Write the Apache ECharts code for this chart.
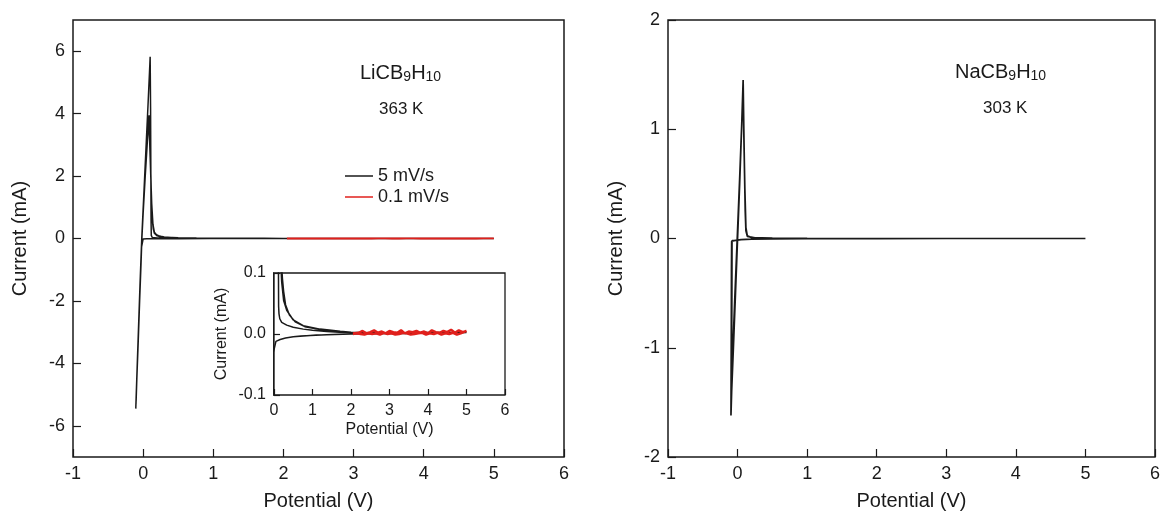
<!DOCTYPE html>
<html>
<head>
<meta charset="utf-8">
<script src="https://cdn.jsdelivr.net/npm/echarts@6/dist/echarts.min.js"></script>
<style>html,body{margin:0;padding:0;background:#fff}#c{width:1163px;height:516px}</style>
</head>
<body>
<div id="c"></div>
<script>
// ---------- DATA ----------
// LiCB9H10, 363 K, 5 mV/s : three cycles (cathodic 5 -> -0.1 V, anodic -0.1 -> 5 V)
const liCyc1V = [5.0,4.5,4.0,3.5,3.0,2.5,2.0,1.7,1.37,1.1,0.94,0.7,0.5,0.3,0.16,0.05,0.0,-0.015,-0.025,-0.04,-0.06,-0.08,-0.095,-0.105,
  -0.1,-0.085,-0.065,-0.045,-0.03,-0.02,-0.005,0.02,0.045,0.07,0.09,0.1,0.106,0.11,0.113,0.116,0.12,0.13,0.15,0.2,0.33,0.5,0.76,1.0,1.37,1.7,2.0,2.5,3.0,3.5,4.0,4.5,5.0];
const liCyc1I = [0.002,0.002,0.0015,0.001,0.001,0.0005,-0.0002,-0.0006,-0.0013,-0.0018,-0.0023,-0.0032,-0.0045,-0.0065,-0.009,-0.012,-0.014,-0.03,-0.3,-1.2,-2.5,-3.8,-4.8,-5.45,
  -5.1,-4.1,-2.8,-1.5,-0.6,0.0,0.7,1.9,3.1,4.3,5.3,5.82,4.2,2.0,0.6,0.1,0.045,0.033,0.025,0.019,0.0145,0.011,0.008,0.006,0.004,0.003,0.002,0.0015,0.0015,0.002,0.002,0.0025,0.003];
const liCyc2V = [4.5,4.0,3.0,2.0,1.37,0.94,0.5,0.3,0.16,0.05,0.0,-0.015,-0.025,-0.04,-0.06,-0.08,-0.095,-0.102,
  -0.095,-0.08,-0.06,-0.04,-0.02,0.0,0.03,0.06,0.085,0.1,0.115,0.13,0.145,0.16,0.18,0.2,0.25,0.33,0.5,0.76,1.2,1.72,2.0,2.5,3.0,3.5,4.0,4.5,5.0];
const liCyc2I = [0.002,0.0015,0.001,-0.0002,-0.0013,-0.0023,-0.0045,-0.0065,-0.009,-0.012,-0.0145,-0.03,-0.3,-1.2,-2.5,-3.8,-4.8,-5.3,
  -4.8,-3.8,-2.5,-1.2,0.0,0.95,2.2,3.3,3.95,3.0,1.6,0.6,0.3,0.17,0.11,0.085,0.055,0.039,0.023,0.0135,0.008,0.0047,0.003,0.002,0.002,0.002,0.0025,0.002,0.003];
const liCyc3V = [4.5,4.0,3.0,2.0,1.37,0.94,0.5,0.3,0.16,0.05,0.0,-0.015,-0.025,-0.04,-0.06,-0.08,-0.095,-0.1,
  -0.09,-0.07,-0.05,-0.03,-0.018,0.0,0.03,0.06,0.083,0.1,0.12,0.14,0.16,0.19,0.22,0.25,0.3,0.4,0.55,0.8,1.2,1.6,2.0];
const liCyc3I = [0.002,0.0015,0.001,-0.0002,-0.0013,-0.0023,-0.0045,-0.0065,-0.009,-0.012,-0.014,-0.03,-0.3,-1.2,-2.5,-3.8,-4.8,-5.2,
  -4.5,-3.3,-2.0,-0.8,0.0,0.8,2.0,3.1,3.8,2.6,1.2,0.45,0.2,0.12,0.09,0.07,0.048,0.031,0.02,0.012,0.0075,0.005,0.003];

// LiCB9H10, 0.1 mV/s (2 -> 5 -> 2 V)
const liSlowV = [2.05,2.1,2.2,2.3,2.4,2.5,2.6,2.7,2.8,2.9,3.0,3.1,3.2,3.3,3.4,3.5,3.6,3.7,3.8,3.9,4.0,4.1,4.2,4.3,4.4,4.5,4.6,4.7,4.8,4.9,5.0,
  4.95,4.85,4.75,4.65,4.55,4.45,4.35,4.25,4.15,4.05,3.95,3.85,3.75,3.65,3.55,3.45,3.35,3.25,3.15,3.05,2.95,2.85,2.75,2.65,2.55,2.45,2.35,2.25,2.15,2.05];
const liSlowI = [0.001,0.004,0.002,0.005,0.001,0.003,0.006,0.002,0.004,0.001,0.005,0.003,0.002,0.006,0.001,0.004,0.003,0.005,0.002,0.004,0.001,0.006,0.003,0.002,0.005,0.003,0.007,0.002,0.006,0.003,0.005,
  0.003,0.001,-0.001,0.002,0.0,0.001,-0.001,0.002,0.0,0.001,-0.001,0.002,0.001,0.0,-0.001,0.001,0.002,0.0,-0.001,0.001,0.0,0.002,-0.001,0.001,0.0,0.001,-0.001,0.0,0.001,0.0];

// NaCB9H10, 303 K : two cycles
const naV = [5.0,4.0,3.0,2.0,1.0,0.5,0.2,0.05,0.0,-0.05,-0.085,-0.088,-0.09,-0.093,-0.095,
  -0.085,-0.06,-0.03,0.0,0.03,0.06,0.08,0.09,0.1,0.11,0.12,0.14,0.165,0.25,0.4,0.7,1.0,2.0,3.0,4.0,5.0,
  4.0,3.0,2.0,1.0,0.5,0.2,0.05,0.0,-0.05,-0.08,-0.082,-0.085,-0.088,
  -0.07,-0.04,-0.005,0.03,0.06,0.078,0.09,0.105,0.12,0.14,0.2,0.5,1.0,2.0,3.0,4.0,5.0];
const naI = [0.0,0.0,0.0,-0.001,-0.002,-0.004,-0.006,-0.01,-0.015,-0.02,-0.025,-0.3,-0.8,-1.3,-1.62,
  -1.4,-1.0,-0.5,0.0,0.5,1.05,1.45,1.0,0.6,0.25,0.07,0.02,0.01,0.006,0.004,0.002,0.001,0.0,0.0,0.0,0.0,
  0.0,0.0,-0.001,-0.002,-0.004,-0.006,-0.01,-0.015,-0.02,-0.02,-0.5,-1.0,-1.31,
  -1.05,-0.55,0.0,0.55,1.05,1.4,0.95,0.45,0.1,0.025,0.008,0.003,0.001,0.0,0.0,0.0,0.0];

const leftYTicks = [-6,-4,-2,0,2,4,6];
const xTicksMain = { min: -1, max: 6, interval: 1 };

// ---------- BUILD ----------
const zip = (xs, ys) => xs.map((x, i) => [x, ys[i]]);
const liFast = zip(liCyc1V, liCyc1I).concat(zip(liCyc2V, liCyc2I), zip(liCyc3V, liCyc3I));
const liSlow = zip(liSlowV, liSlowI);
const na = zip(naV, naI);

const FONT = "'Liberation Sans', Arial, Helvetica, sans-serif";
const INK = '#1a1a1a';
const RED = '#e0201c';

function xAxis(grid, min, max, fs, nfs, gap, tick) {
  return {
    type: 'value', gridIndex: grid, min: min, max: max, interval: 1,
    name: 'Potential (V)', nameLocation: 'middle', nameGap: gap,
    nameTextStyle: { fontFamily: FONT, fontSize: nfs, color: INK },
    axisLine: { show: false, onZero: false },
    axisTick: { show: true, inside: true, length: tick, lineStyle: { color: INK, width: 1.2 } },
    axisLabel: { fontFamily: FONT, fontSize: fs, color: INK, margin: 8 },
    splitLine: { show: false }
  };
}

const richSub = {
  a: { fontFamily: FONT, fontSize: 20, lineHeight: 22, fontWeight: 'normal', color: INK },
  s: { fontFamily: FONT, fontSize: 14, lineHeight: 22, fontWeight: 'normal', verticalAlign: 'bottom', color: INK }
};

const option = {
  animation: false,
  backgroundColor: '#ffffff',
  textStyle: { fontFamily: FONT },
  grid: [
    { left: 73, top: 20, width: 491, height: 442, show: true, borderColor: INK, borderWidth: 1.5, backgroundColor: 'transparent' },
    { left: 668, top: 20, width: 491, height: 442, show: true, borderColor: INK, borderWidth: 1.5, backgroundColor: 'transparent' },
    { left: 274, top: 273, width: 231, height: 122, show: true, borderColor: INK, borderWidth: 1.3, backgroundColor: '#ffffff', z: 5 }
  ],
  xAxis: [
    xAxis(0, xTicksMain.min, xTicksMain.max, 18, 20, 34, 8),
    xAxis(1, xTicksMain.min, xTicksMain.max, 18, 20, 34, 8),
    Object.assign(xAxis(2, 0, 6, 16, 16, 27, 6), { z: 6 })
  ],
  yAxis: [
    {
      type: 'value', gridIndex: 0, min: -7, max: 7,
      name: 'Current (mA)', nameLocation: 'middle', nameGap: 43,
      nameTextStyle: { fontFamily: FONT, fontSize: 20, color: INK },
      axisLine: { show: false, onZero: false },
      axisTick: { show: true, inside: true, length: 8, customValues: leftYTicks, lineStyle: { color: INK, width: 1.2 } },
      axisLabel: { fontFamily: FONT, fontSize: 18, color: INK, margin: 8, customValues: leftYTicks },
      splitLine: { show: false }
    },
    {
      type: 'value', gridIndex: 1, min: -2, max: 2, interval: 1,
      name: 'Current (mA)', nameLocation: 'middle', nameGap: 42,
      nameTextStyle: { fontFamily: FONT, fontSize: 20, color: INK },
      axisLine: { show: false, onZero: false },
      axisTick: { show: true, inside: true, length: 8, lineStyle: { color: INK, width: 1.2 } },
      axisLabel: { fontFamily: FONT, fontSize: 18, color: INK, margin: 8 },
      splitLine: { show: false }
    },
    {
      type: 'value', gridIndex: 2, min: -0.1, max: 0.1, interval: 0.1, z: 6,
      name: 'Current (mA)', nameLocation: 'middle', nameGap: 44,
      nameTextStyle: { fontFamily: FONT, fontSize: 16, color: INK },
      axisLine: { show: false, onZero: false },
      axisTick: { show: true, inside: true, length: 6, lineStyle: { color: INK, width: 1.2 } },
      axisLabel: { fontFamily: FONT, fontSize: 16, color: INK, margin: 8, formatter: v => v.toFixed(1) },
      splitLine: { show: false }
    }
  ],
  legend: {
    data: ['5 mV/s', '0.1 mV/s'], orient: 'vertical', left: 345, top: 167,
    icon: 'rect', itemWidth: 28, itemHeight: 1.5, itemGap: 3, selectedMode: false, padding: 0,
    textStyle: { fontFamily: FONT, fontSize: 18, color: INK, lineHeight: 17 }
  },
  title: [
    { text: '{a|LiCB}{s|9}{a|H}{s|10}', left: 360, top: 62, padding: 0, textStyle: { fontWeight: 'normal', rich: richSub } },
    { text: '363 K', left: 379, top: 101, padding: 0, textStyle: { fontFamily: FONT, fontSize: 17, fontWeight: 'normal', color: INK } },
    { text: '{a|NaCB}{s|9}{a|H}{s|10}', left: 955, top: 61, padding: 0, textStyle: { fontWeight: 'normal', rich: richSub } },
    { text: '303 K', left: 983, top: 100, padding: 0, textStyle: { fontFamily: FONT, fontSize: 17, fontWeight: 'normal', color: INK } }
  ],
  series: [
    { name: '5 mV/s', type: 'line', xAxisIndex: 0, yAxisIndex: 0, data: liFast, symbol: 'none', showSymbol: false,
      lineStyle: { color: INK, width: 1.5 }, itemStyle: { color: INK }, z: 2, clip: true },
    { name: '0.1 mV/s', type: 'line', xAxisIndex: 0, yAxisIndex: 0, data: liSlow, symbol: 'none', showSymbol: false,
      lineStyle: { color: RED, width: 1.8 }, itemStyle: { color: RED }, z: 3, clip: true },
    { name: 'NaCB9H10', type: 'line', xAxisIndex: 1, yAxisIndex: 1, data: na, symbol: 'none', showSymbol: false,
      lineStyle: { color: INK, width: 1.7 }, itemStyle: { color: INK }, z: 2, clip: true },
    { name: '5 mV/s', type: 'line', xAxisIndex: 2, yAxisIndex: 2, data: liFast, symbol: 'none', showSymbol: false,
      lineStyle: { color: INK, width: 1.5 }, itemStyle: { color: INK }, z: 7, clip: true },
    { name: '0.1 mV/s', type: 'line', xAxisIndex: 2, yAxisIndex: 2, data: liSlow, symbol: 'none', showSymbol: false,
      lineStyle: { color: RED, width: 2.5 }, itemStyle: { color: RED }, z: 8, clip: true }
  ]
};

const chart = echarts.init(document.getElementById('c'), null, { renderer: 'canvas' });
chart.setOption(option);
</script>
</body>
</html>
